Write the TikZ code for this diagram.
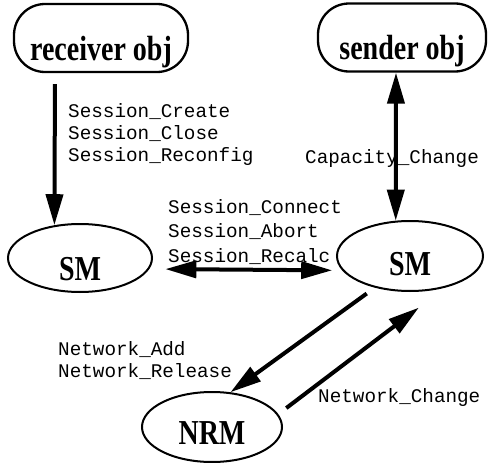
\documentclass[tikz,border=0pt]{standalone}
\usepackage{fontspec}
\usepackage{graphicx}
\setmainfont{Liberation Serif}
\newfontfamily\labelfont{Liberation Mono}
\usetikzlibrary{arrows.meta,shapes.geometric}
% bold entity names are set a little taller than wide
\newcommand\tallword[1]{\scalebox{1}[1.25]{#1}}
\begin{document}
\begin{tikzpicture}[x=1pt,y=-1pt,
  namefont/.style={font=\fontsize{28}{30}\selectfont\bfseries},
  obj/.style={namefont, draw, line width=2.3pt, rectangle, rounded corners=31pt,
    minimum width=#1, minimum height=68pt, inner sep=0pt,
    text height=44pt, text depth=0pt},
  ell/.style={namefont, draw, line width=2pt, ellipse, inner sep=0pt, text depth=0pt},
  lab/.style={font=\labelfont\fontsize{19.3}{22}\selectfont, inner sep=0pt,
    align=left, anchor=base west},
  arr/.style={line width=4pt, -{Triangle[length=31pt,width=17pt]}},
  darr/.style={line width=4pt, {Triangle[length=31pt,width=17pt]}-{Triangle[length=31pt,width=17pt]}}]
\useasboundingbox (0,0) rectangle (488,463);

% objects
\node[obj=174pt] (recv) at (101,38) {\tallword{receiver obj}};
\node[obj=168pt] (send) at (402,37.5) {\tallword{sender obj}};

% managers
\node[ell, minimum width=144pt, minimum height=68pt, text height=44pt] (smL) at (80,258) {\tallword{SM}};
\node[ell, minimum width=146pt, minimum height=70pt, text height=38pt] (smR) at (410,256) {\tallword{SM}};
\node[ell, minimum width=140pt, minimum height=70pt, text height=34pt] (nrm) at (212,427) {\tallword{NRM}};

% message flows
\draw[arr, shorten <=11pt] ([xshift=-46pt]recv.south) -- (smL.128);
\draw[darr] ([xshift=-6pt]send.south) -- (smR.112);
\draw[darr, shorten <=16pt, shorten >=10pt] (smL.-9) -- (smR.192);
\draw[arr, shorten <=10pt] (smR.222) -- (nrm.62);
\draw[arr, shorten <=10pt, shorten >=33pt] (nrm.11) -- (smR.318);

% message names (base anchor sits on the last line)
\node[lab] (msgA) at (68,161) {Session\_Create\\Session\_Close\\Session\_Reconfig};
\node[lab] (msgB) at (305,163) {Capacity\_Change};
\node[lab, font=\labelfont\fontsize{19.3}{24.5}\selectfont] (msgC) at (168,262) {Session\_Connect\\Session\_Abort\\Session\_Recalc};
\node[lab] (msgD) at (58,377) {Network\_Add\\Network\_Release};
\node[lab] (msgE) at (318,402) {Network\_Change};
\end{tikzpicture}
\end{document}
